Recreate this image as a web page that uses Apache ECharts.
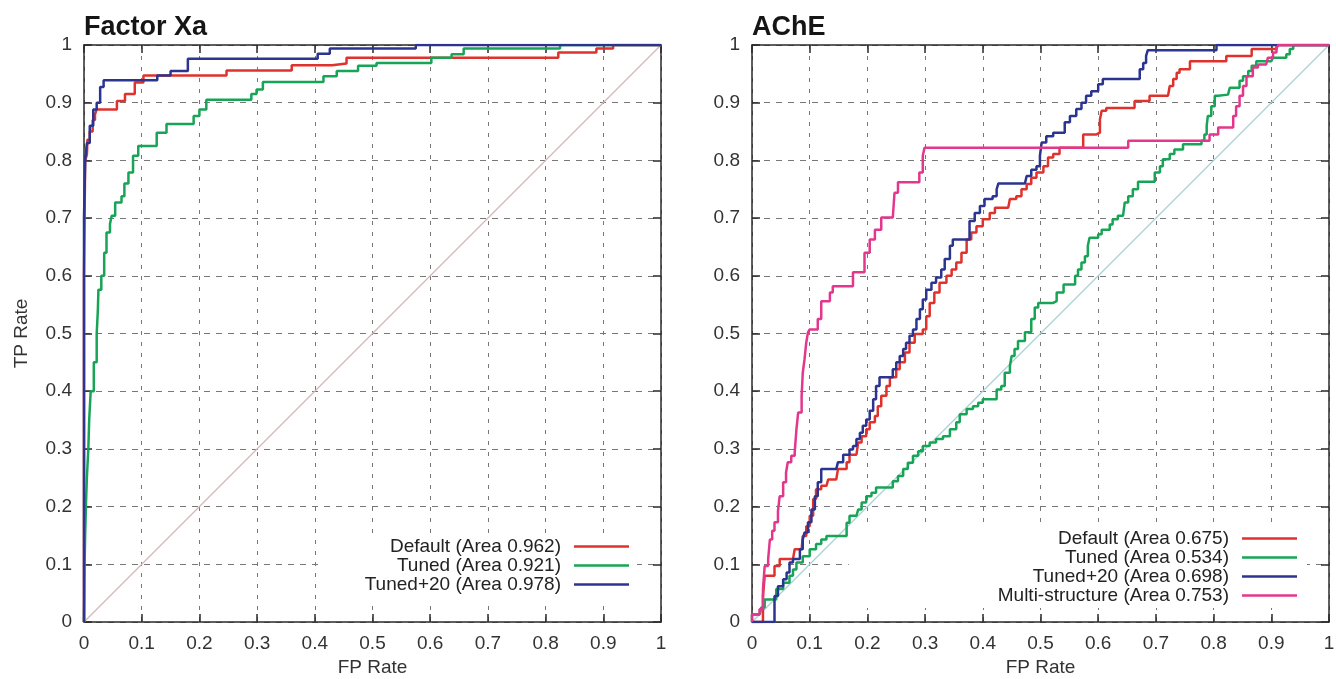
<!DOCTYPE html>
<html><head><meta charset="utf-8">
<script src="https://cdn.jsdelivr.net/npm/echarts@6/dist/echarts.min.js"></script>
<style>html,body{margin:0;padding:0;background:#fff}#c{width:1336px;height:679px}</style>
</head><body><div id="c"></div>
<script>
// ---------- data ----------
const titles = ['Factor Xa', 'AChE'];
const xName = 'FP Rate';
const yName = 'TP Rate';
const tickLabels = ['0','0.1','0.2','0.3','0.4','0.5','0.6','0.7','0.8','0.9','1'];

const xaNames = ['Default (Area 0.962)', 'Tuned (Area 0.921)', 'Tuned+20 (Area 0.978)'];
const acheNames = ['Default (Area 0.675)', 'Tuned (Area 0.534)', 'Tuned+20 (Area 0.698)', 'Multi-structure (Area 0.753)'];
const diagonal = [[0,0],[1,1]];

const xaDefault = [[0,0],[0,0.6],[0.002,0.8],[0.005,0.81],[0.006,0.836],[0.01,0.85],[0.015,0.87],[0.019,0.88],[0.022,0.888],[0.057,0.888],[0.057,0.903],[0.071,0.903],[0.071,0.915],[0.088,0.915],[0.088,0.935],[0.103,0.935],[0.103,0.947],[0.247,0.947],[0.247,0.956],[0.36,0.956],[0.36,0.965],[0.43,0.965],[0.43,0.968],[0.455,0.968],[0.455,0.978],[0.822,0.978],[0.822,0.987],[0.888,0.987],[0.888,0.994],[0.917,0.994],[0.917,1],[1,1]];
const xaTuned = [[0,0],[0.001,0.1],[0.002,0.15],[0.0035,0.207],[0.005,0.25],[0.0075,0.3],[0.009,0.35],[0.0116,0.4],[0.017,0.45],[0.022,0.5],[0.024,0.54],[0.025,0.576],[0.03,0.576],[0.03,0.6],[0.035,0.64],[0.039,0.675],[0.045,0.69],[0.048,0.704],[0.054,0.727],[0.065,0.738],[0.07,0.76],[0.077,0.779],[0.085,0.808],[0.094,0.825],[0.12,0.825],[0.126,0.848],[0.143,0.863],[0.186,0.863],[0.19,0.877],[0.2,0.888],[0.212,0.905],[0.282,0.905],[0.29,0.915],[0.299,0.923],[0.31,0.936],[0.403,0.936],[0.415,0.946],[0.438,0.955],[0.475,0.964],[0.507,0.969],[0.602,0.969],[0.602,0.978],[0.637,0.984],[0.658,0.994],[0.825,0.994],[0.825,1],[1,1]];
const xaTuned20 = [[0,0],[0,0.7],[0.002,0.8],[0.005,0.83],[0.01,0.86],[0.016,0.888],[0.022,0.9],[0.028,0.927],[0.034,0.939],[0.127,0.939],[0.127,0.947],[0.15,0.947],[0.15,0.955],[0.175,0.955],[0.18,0.976],[0.40,0.976],[0.405,0.985],[0.426,0.994],[0.575,0.994],[0.575,1],[1,1]];

const acheDefault = [[0,0],[0.019,0],[0.019,0.045],[0.022,0.08],[0.039,0.08],[0.039,0.097],[0.048,0.109],[0.071,0.109],[0.074,0.126],[0.086,0.126],[0.088,0.149],[0.094,0.166],[0.1,0.184],[0.106,0.213],[0.111,0.23],[0.12,0.236],[0.129,0.236],[0.132,0.247],[0.146,0.247],[0.149,0.265],[0.164,0.277],[0.169,0.29],[0.181,0.29],[0.184,0.311],[0.19,0.322],[0.198,0.334],[0.204,0.346],[0.213,0.357],[0.218,0.374],[0.224,0.392],[0.233,0.409],[0.239,0.424],[0.25,0.438],[0.256,0.45],[0.265,0.467],[0.273,0.484],[0.282,0.499],[0.296,0.507],[0.302,0.53],[0.308,0.553],[0.316,0.571],[0.325,0.588],[0.337,0.6],[0.346,0.611],[0.354,0.623],[0.363,0.64],[0.372,0.663],[0.38,0.675],[0.389,0.686],[0.4,0.698],[0.412,0.709],[0.421,0.718],[0.444,0.718],[0.447,0.733],[0.458,0.738],[0.467,0.75],[0.476,0.759],[0.484,0.77],[0.493,0.779],[0.505,0.79],[0.513,0.805],[0.522,0.811],[0.533,0.822],[0.574,0.822],[0.574,0.845],[0.597,0.848],[0.603,0.871],[0.606,0.886],[0.614,0.891],[0.663,0.891],[0.663,0.903],[0.689,0.903],[0.689,0.912],[0.721,0.912],[0.724,0.929],[0.73,0.941],[0.736,0.952],[0.741,0.958],[0.759,0.972],[0.822,0.972],[0.822,0.981],[0.866,0.981],[0.866,0.993],[0.909,0.993],[0.909,1],[1,1]];
const acheTuned = [[0,0],[0,0.013],[0.013,0.013],[0.016,0.025],[0.022,0.039],[0.042,0.039],[0.042,0.057],[0.054,0.068],[0.065,0.08],[0.071,0.091],[0.077,0.103],[0.088,0.114],[0.1,0.126],[0.111,0.135],[0.12,0.143],[0.129,0.149],[0.158,0.149],[0.164,0.172],[0.169,0.184],[0.181,0.184],[0.184,0.195],[0.19,0.207],[0.198,0.218],[0.207,0.224],[0.215,0.233],[0.239,0.233],[0.244,0.244],[0.253,0.253],[0.262,0.265],[0.27,0.276],[0.279,0.288],[0.288,0.296],[0.296,0.305],[0.308,0.311],[0.319,0.317],[0.331,0.322],[0.343,0.334],[0.354,0.346],[0.36,0.36],[0.372,0.369],[0.383,0.374],[0.392,0.38],[0.4,0.386],[0.42,0.386],[0.424,0.403],[0.432,0.409],[0.438,0.432],[0.447,0.444],[0.45,0.461],[0.455,0.473],[0.461,0.487],[0.473,0.502],[0.48,0.502],[0.484,0.525],[0.49,0.545],[0.496,0.553],[0.522,0.556],[0.528,0.571],[0.54,0.585],[0.551,0.585],[0.56,0.6],[0.565,0.611],[0.571,0.623],[0.577,0.634],[0.582,0.652],[0.585,0.666],[0.6,0.672],[0.606,0.68],[0.62,0.689],[0.625,0.698],[0.634,0.704],[0.643,0.704],[0.646,0.727],[0.652,0.738],[0.66,0.75],[0.669,0.763],[0.698,0.767],[0.698,0.779],[0.707,0.79],[0.712,0.802],[0.724,0.811],[0.732,0.819],[0.747,0.828],[0.779,0.834],[0.784,0.845],[0.788,0.86],[0.79,0.877],[0.796,0.894],[0.802,0.912],[0.808,0.914],[0.825,0.914],[0.828,0.926],[0.839,0.926],[0.845,0.938],[0.851,0.946],[0.86,0.955],[0.866,0.964],[0.874,0.972],[0.9,0.972],[0.903,0.978],[0.926,0.978],[0.926,0.984],[0.932,0.993],[0.938,1],[1,1]];
const acheTuned20 = [[0,0],[0.039,0],[0.039,0.045],[0.045,0.062],[0.054,0.074],[0.06,0.086],[0.065,0.103],[0.071,0.109],[0.083,0.126],[0.088,0.143],[0.091,0.155],[0.097,0.173],[0.103,0.195],[0.109,0.218],[0.114,0.242],[0.12,0.265],[0.146,0.265],[0.149,0.277],[0.158,0.29],[0.169,0.299],[0.175,0.305],[0.181,0.317],[0.187,0.328],[0.192,0.34],[0.198,0.351],[0.204,0.366],[0.21,0.386],[0.215,0.409],[0.221,0.424],[0.239,0.424],[0.244,0.438],[0.25,0.45],[0.256,0.461],[0.262,0.473],[0.267,0.484],[0.273,0.496],[0.279,0.507],[0.285,0.525],[0.291,0.542],[0.296,0.559],[0.302,0.576],[0.311,0.588],[0.319,0.597],[0.328,0.611],[0.334,0.629],[0.343,0.652],[0.348,0.663],[0.372,0.663],[0.377,0.695],[0.386,0.709],[0.395,0.721],[0.403,0.733],[0.417,0.738],[0.424,0.75],[0.427,0.76],[0.473,0.76],[0.476,0.773],[0.484,0.784],[0.493,0.79],[0.499,0.808],[0.502,0.831],[0.51,0.842],[0.522,0.848],[0.536,0.848],[0.542,0.866],[0.551,0.877],[0.562,0.889],[0.571,0.9],[0.579,0.912],[0.588,0.92],[0.6,0.932],[0.608,0.941],[0.666,0.941],[0.672,0.958],[0.678,0.969],[0.683,0.981],[0.686,0.991],[0.805,0.991],[0.805,1],[1,1]];
const acheMulti = [[0,0],[0,0.013],[0.002,0.013],[0.013,0.022],[0.019,0.057],[0.022,0.097],[0.028,0.109],[0.031,0.143],[0.035,0.158],[0.039,0.173],[0.045,0.192],[0.048,0.218],[0.054,0.242],[0.059,0.259],[0.062,0.277],[0.068,0.288],[0.074,0.294],[0.077,0.334],[0.08,0.363],[0.086,0.392],[0.088,0.432],[0.091,0.455],[0.094,0.484],[0.097,0.502],[0.1,0.507],[0.114,0.525],[0.12,0.556],[0.135,0.571],[0.14,0.582],[0.169,0.582],[0.175,0.606],[0.19,0.606],[0.195,0.64],[0.204,0.663],[0.213,0.68],[0.224,0.701],[0.244,0.701],[0.247,0.744],[0.253,0.762],[0.285,0.762],[0.29,0.779],[0.296,0.808],[0.299,0.822],[0.652,0.822],[0.652,0.834],[0.788,0.834],[0.793,0.845],[0.808,0.857],[0.828,0.857],[0.834,0.877],[0.839,0.894],[0.845,0.912],[0.851,0.929],[0.857,0.946],[0.868,0.961],[0.877,0.966],[0.891,0.966],[0.894,0.978],[0.903,0.987],[0.909,0.994],[0.912,1],[1,1]];

// ---------- styling ----------
const FONT = '"Liberation Sans", Arial, Helvetica, sans-serif';
const RED = '#e0322d', GREEN = '#18a456', BLUE = '#2b348f', MAGENTA = '#e2378c';
const AXIS = '#2a2a2a';

function xAxes(grid) {
  return [
    { type:'value', gridIndex:grid, position:'bottom', min:0, max:1, interval:0.1,
      name: xName, nameLocation:'middle', nameGap:36,
      nameTextStyle:{fontFamily:FONT, fontSize:19, color:'#333'},
      axisLine:{show:true, onZero:false, lineStyle:{color:AXIS, width:1.5}},
      axisTick:{show:true, inside:true, length:8, lineStyle:{color:AXIS, width:1.5}},
      axisLabel:{show:true, margin:12, fontFamily:FONT, fontSize:19, color:'#333',
        formatter:v => tickLabels[Math.round(v*10)]},
      splitLine:{show:true, lineStyle:{color:'#777', width:1, type:[4,7]}} },
    { type:'value', gridIndex:grid, position:'top', min:0, max:1, interval:0.1,
      axisLine:{show:true, onZero:false, lineStyle:{color:AXIS, width:1.5}},
      axisTick:{show:true, inside:true, length:8, lineStyle:{color:AXIS, width:1.5}},
      axisLabel:{show:false}, splitLine:{show:false} }
  ];
}
function yAxes(grid, withName) {
  return [
    { type:'value', gridIndex:grid, position:'left', min:0, max:1, interval:0.1,
      name: withName ? yName : '', nameLocation:'middle', nameGap:53,
      nameTextStyle:{fontFamily:FONT, fontSize:19, color:'#333'},
      axisLine:{show:true, onZero:false, lineStyle:{color:AXIS, width:1.5}},
      axisTick:{show:true, inside:true, length:8, lineStyle:{color:AXIS, width:1.5}},
      axisLabel:{show:true, margin:12, fontFamily:FONT, fontSize:19, color:'#333',
        formatter:v => tickLabels[Math.round(v*10)]},
      splitLine:{show:true, lineStyle:{color:'#777', width:1, type:[6,6]}} },
    { type:'value', gridIndex:grid, position:'right', min:0, max:1, interval:0.1,
      axisLine:{show:true, onZero:false, lineStyle:{color:AXIS, width:1.5}},
      axisTick:{show:true, inside:true, length:8, lineStyle:{color:AXIS, width:1.5}},
      axisLabel:{show:false}, splitLine:{show:false} }
  ];
}
function curve(name, data, color, xi, yi) {
  return { name, type:'line', data, xAxisIndex:xi, yAxisIndex:yi, step:'end',
    showSymbol:false, symbol:'none', color, lineStyle:{color, width:2.5}, z:3, silent:true };
}
function diag(color, xi, yi) {
  return { name:'diag'+xi, type:'line', data:diagonal, xAxisIndex:xi, yAxisIndex:yi,
    showSymbol:false, symbol:'none', lineStyle:{color, width:1.2}, z:2, silent:true };
}
function legend(names, right, top, padding) {
  return { data:names, orient:'vertical', right, top, align:'right', icon:'rect',
    itemWidth:55, itemHeight:2.5, itemGap:0, selectedMode:false,
    backgroundColor:'#fff', padding, z:5,
    formatter: n => '{t|' + n + '}',
    textStyle:{ rich:{ t:{ fontFamily:FONT, fontSize:19, color:'#222', lineHeight:19.2, padding:[0,8,0,0] } } } };
}

const chart = echarts.init(document.getElementById('c'), null, {renderer:'canvas'});
chart.setOption({
  animation:false,
  backgroundColor:'#fff',
  title:[
    { text:titles[0], left:84, top:14, padding:0, textStyle:{fontFamily:FONT, fontSize:27, fontWeight:'bold', color:'#151515'} },
    { text:titles[1], left:752, top:14, padding:0, textStyle:{fontFamily:FONT, fontSize:27, fontWeight:'bold', color:'#151515'} }
  ],
  grid:[
    { left:84, top:45, width:577, height:577, outerBoundsMode:'none', containLabel:false },
    { left:752, top:45, width:577, height:577, outerBoundsMode:'none', containLabel:false }
  ],
  xAxis:[...xAxes(0), ...xAxes(1)],
  yAxis:[...yAxes(0, true), ...yAxes(1, false)],
  legend:[
    legend(xaNames, 699, 533, [4, 8, 8, 44]),
    legend(acheNames, 29, 527, [2, 10, 3, 149])
  ],
  series:[
    diag('#d6b6b6', 0, 0),
    curve(xaNames[0], xaDefault, RED, 0, 0),
    curve(xaNames[1], xaTuned, GREEN, 0, 0),
    curve(xaNames[2], xaTuned20, BLUE, 0, 0),
    diag('#a6d2d6', 2, 2),
    curve(acheNames[0], acheDefault, RED, 2, 2),
    curve(acheNames[1], acheTuned, GREEN, 2, 2),
    curve(acheNames[2], acheTuned20, BLUE, 2, 2),
    curve(acheNames[3], acheMulti, MAGENTA, 2, 2)
  ]
});
</script>
</body></html>
